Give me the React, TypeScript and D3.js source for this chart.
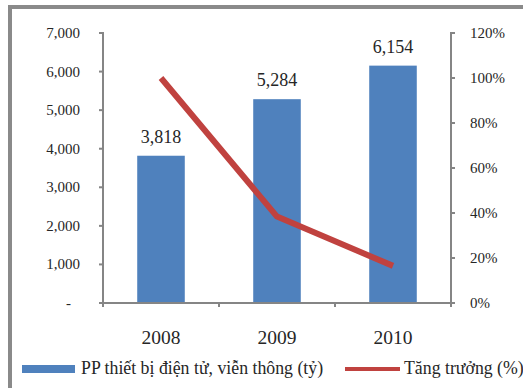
import React from "react";
import * as d3 from "d3";

// Sales of electronics & telecom equipment (billion VND) and growth rate
const years = ["2008", "2009", "2010"];
const salesValues = [3818, 5284, 6154];
const growthValues = [1.0, 0.384, 0.165];
const leftTicks = [0, 1000, 2000, 3000, 4000, 5000, 6000, 7000];
const rightTicks = [0, 0.2, 0.4, 0.6, 0.8, 1.0, 1.2];
const barLegend = "PP thiết bị điện tử, viễn thông (tỷ)";
const lineLegend = "Tăng trưởng (%)";

const W = 523;
const H = 388;
const plot = { left: 103, right: 451, top: 33, bottom: 303 };
const BAR = "#4f81bd";
const LINE = "#c0423f";
const AXIS = "#858585";
const FONT = "Liberation Serif";

function T({ x, y, size, anchor = "start", children, fill = "#262626" }: any) {
  return (
    <text x={x} y={y} textAnchor={anchor} fill={fill} style={{ fontFamily: FONT, fontSize: size }}>
      {children}
    </text>
  );
}

export default function App() {
  const x = d3
    .scaleBand<string>()
    .domain(years)
    .range([plot.left, plot.right])
    .paddingInner(0.59)
    .paddingOuter(0.295);
  const yL = d3.scaleLinear().domain([0, 7000]).range([plot.bottom, plot.top]);
  const yR = d3.scaleLinear().domain([0, 1.2]).range([plot.bottom, plot.top]);
  const cx = (d: string) => (x(d) as number) + x.bandwidth() / 2;

  const line = d3
    .line<number>()
    .x((_, i) => cx(years[i]))
    .y((d) => yR(d))
    .curve(d3.curveLinear);

  const fmt = d3.format(",");
  const step = x.step();
  const boundaries = d3.range(years.length + 1).map((i) => plot.left + i * step);

  return (
    <svg
      width={W}
      height={H}
      fontFamily={FONT}
      style={{ position: "absolute", left: 0, top: 0, background: "#fff", fontFamily: FONT }}
    >
      <rect x={0} y={0} width={W} height={H} fill="#fff" />
      {/* outer frame */}
      <rect x={10} y={7} width={W + 20} height={H + 20} fill="none" stroke="#8a8a8a" strokeWidth={4} />

      {/* bars */}
      {salesValues.map((v, i) => (
        <rect
          key={years[i]}
          x={x(years[i])}
          y={yL(v)}
          width={x.bandwidth()}
          height={yL(0) - yL(v)}
          fill={BAR}
        />
      ))}

      {/* axes */}
      <g stroke={AXIS} strokeWidth={2} fill="none">
        <line x1={plot.left} x2={plot.left} y1={plot.top - 1} y2={plot.bottom + 4} />
        {leftTicks.map((t) => (
          <line key={t} x1={plot.left - 4} x2={plot.left} y1={yL(t)} y2={yL(t)} />
        ))}
        <line x1={plot.right} x2={plot.right} y1={plot.top - 1} y2={plot.bottom + 4} />
        {rightTicks.map((t) => (
          <line key={t} x1={plot.right} x2={plot.right + 4} y1={yR(t)} y2={yR(t)} />
        ))}
        <line x1={plot.left - 3} x2={plot.right + 3} y1={plot.bottom} y2={plot.bottom} />
        {boundaries.map((b, i) => (
          <line key={i} x1={b} x2={b} y1={plot.bottom} y2={plot.bottom + 4} />
        ))}
      </g>

      {/* growth line */}
      <path
        d={line(growthValues) || ""}
        fill="none"
        stroke={LINE}
        strokeWidth={6}
        strokeLinejoin="round"
        strokeLinecap="butt"
      />

      {/* value labels */}
      {salesValues.map((v, i) => (
        <T key={i} x={cx(years[i])} y={yL(v) - 13} size={18} anchor="middle">
          {fmt(v)}
        </T>
      ))}

      {/* left tick labels */}
      {leftTicks.map((t) =>
        t === 0 ? (
          <T key={t} x={71} y={yL(t) + 5} size={15} anchor="end">-</T>
        ) : (
          <T key={t} x={80} y={yL(t) + 5} size={15} anchor="end">
            {fmt(t)}
          </T>
        )
      )}

      {/* right tick labels */}
      {rightTicks.map((t) => (
        <T key={t} x={470} y={yR(t) + 5} size={15}>
          {d3.format(".0%")(t)}
        </T>
      ))}

      {/* category labels */}
      {years.map((yr) => (
        <T key={yr} x={cx(yr)} y={344} size={19.5} anchor="middle">
          {yr}
        </T>
      ))}

      {/* legend */}
      <rect x={22} y={365} width={53} height={8} fill={BAR} />
      <T x={81} y={374} size={17.8}>{barLegend}</T>
      <line x1={345} x2={400} y1={369} y2={369} stroke={LINE} strokeWidth={4} />
      <T x={404} y={374} size={17.8}>{lineLegend}</T>
    </svg>
  );
}
